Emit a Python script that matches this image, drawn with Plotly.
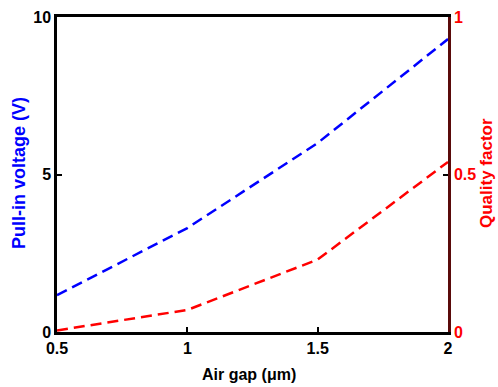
import plotly.graph_objects as go

air_gap = [0.5, 1.0, 1.5, 2.0]
pull_in_voltage = [1.17, 3.3, 6.0, 9.3]
quality_factor = [0.005, 0.07, 0.23, 0.54]

x_ticks = [0.5, 1, 1.5, 2]
x_tick_labels = ["0.5", "1", "1.5", "2"]
y1_ticks = [0, 5, 10]
y2_ticks = [0, 0.5, 1]
y2_tick_labels = ["0", "0.5", "1"]

font_family = "Liberation Sans, Arial, sans-serif"

fig = go.Figure()
fig.add_trace(go.Scatter(x=air_gap, y=pull_in_voltage, mode="lines",
                         line=dict(color="#0000ff", width=2.5, dash="11px,6px"),
                         showlegend=False))
fig.add_trace(go.Scatter(x=air_gap, y=quality_factor, mode="lines", yaxis="y2",
                         line=dict(color="#ff0000", width=2.5, dash="11px,6px"),
                         showlegend=False))

fig.update_layout(
    width=498, height=387,
    margin=dict(l=57, r=50, t=17, b=55, autoexpand=False),
    paper_bgcolor="white", plot_bgcolor="white",
    font=dict(family=font_family, size=16, color="black"),
    xaxis=dict(range=[0.5, 2], tickvals=x_ticks, ticktext=x_tick_labels,
               showgrid=False, zeroline=False, showline=True, linecolor="black",
               linewidth=2.5, mirror=True, ticks="inside", ticklen=5, tickwidth=1.5,
               tickcolor="black",
               tickfont=dict(family=font_family, size=16, color="black", weight=700)),
    yaxis=dict(range=[0, 10], tickvals=y1_ticks, showgrid=False, zeroline=False,
               showline=True, linecolor="black", linewidth=2.5, ticks="inside",
               ticklen=5, tickwidth=1.5, tickcolor="black",
               tickfont=dict(family=font_family, size=16, color="black", weight=700)),
    yaxis2=dict(range=[0, 1], tickvals=y2_ticks, ticktext=y2_tick_labels,
                overlaying="y", side="right", showgrid=False, zeroline=False,
                showline=True, linecolor="#5a0a0a", linewidth=2.5, ticks="inside",
                ticklen=5, tickwidth=1.5, tickcolor="black",
                tickfont=dict(family=font_family, size=16, color="#ff0000", weight=700)),
    annotations=[
        dict(text="<b>Air gap (μm)</b>", xref="paper", yref="paper", x=0.491, y=-0.1365,
             showarrow=False, xanchor="center", yanchor="middle",
             font=dict(family=font_family, size=16, color="black")),
        dict(text="<b>Pull-in voltage (V)</b>", xref="paper", yref="paper", x=-0.0985, y=0.506,
             showarrow=False, xanchor="center", yanchor="middle", textangle=-90,
             font=dict(family=font_family, size=18, color="#0000ff")),
        dict(text="<b>Quality factor</b>", xref="paper", yref="paper", x=1.100, y=0.505,
             showarrow=False, xanchor="center", yanchor="middle", textangle=-90,
             font=dict(family=font_family, size=17, color="#ff0000")),
    ],
)

fig.write_html("out.html")
